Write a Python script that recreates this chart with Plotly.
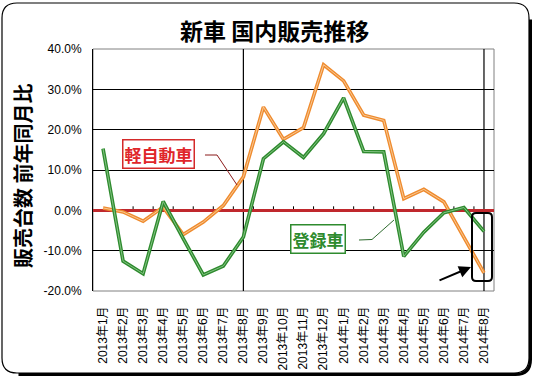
import plotly.graph_objects as go

# ---------------- data ----------------
months = ["2013年1月", "2013年2月", "2013年3月", "2013年4月", "2013年5月", "2013年6月",
          "2013年7月", "2013年8月", "2013年9月", "2013年10月", "2013年11月", "2013年12月",
          "2014年1月", "2014年2月", "2014年3月", "2014年4月", "2014年5月", "2014年6月",
          "2014年7月", "2014年8月"]
kei = [0.6, -0.4, -2.7, 0.8, -6.0, -2.9, 1.2, 8.3, 25.6, 17.6, 20.5, 36.1,
       32.1, 23.6, 22.3, 2.9, 5.2, 2.1, -6.7, -15.5]          # 軽自動車
toroku = [15.3, -12.6, -15.7, 2.2, -7.0, -16.0, -13.8, -6.6, 12.8, 17.0, 13.1, 19.0,
          27.9, 14.6, 14.5, -11.4, -5.4, -0.6, 0.7, -5.2]     # 登録車
ytick_vals = [-20, -10, 0, 10, 20, 30, 40]
ytick_text = [f"{v:.1f}%" for v in ytick_vals]
marked_months = ["2013年8月", "2014年8月"]

title_text = "新車 国内販売推移"
ytitle_text = "販売台数 前年同月比"
kei_label = "軽自動車"
toroku_label = "登録車"

# ---------------- layout geometry (pixels) ----------------
W, H = 534, 378
L, R, T, B = 93, 494, 49, 291


def px(x):
    return (x - L) / (R - L)


def py(y):
    return (B - y) / (B - T)


def rrect(x0, y0, x1, y1, r):
    pts = [
        ("M", [(x0 + r, y0)]), ("L", [(x1 - r, y0)]), ("Q", [(x1, y0), (x1, y0 + r)]),
        ("L", [(x1, y1 - r)]), ("Q", [(x1, y1), (x1 - r, y1)]), ("L", [(x0 + r, y1)]),
        ("Q", [(x0, y1), (x0, y1 - r)]), ("L", [(x0, y0 + r)]), ("Q", [(x0, y0), (x0 + r, y0)]),
    ]
    s = ""
    for cmd, ps in pts:
        s += cmd + " " + " ".join(f"{px(a):.5f},{py(b):.5f}" for a, b in ps) + " "
    return s + "Z"


def shadow_path(x0, y0, x1, y1, r):
    pts = [
        ("M", [(x1, y0 + r)]), ("L", [(x1, y1 - r)]), ("Q", [(x1, y1), (x1 - r, y1)]),
        ("L", [(x0 + r, y1)]),
    ]
    s = ""
    for cmd, ps in pts:
        s += cmd + " " + " ".join(f"{px(a):.5f},{py(b):.5f}" for a, b in ps) + " "
    return s


def polyline(points):
    return "M " + " L ".join(f"{px(a):.5f},{py(b):.5f}" for a, b in points)


fig = go.Figure()

ORANGE = "#EF8B2E"
ORANGE_IN = "#F8C894"
GREEN = "#2E8B2E"
GREEN_IN = "#84C384"

fig.add_trace(go.Scatter(x=months, y=kei, mode="lines",
                         line=dict(color=ORANGE, width=3.6), hoverinfo="skip", showlegend=False))
fig.add_trace(go.Scatter(x=months, y=kei, mode="lines",
                         line=dict(color=ORANGE_IN, width=1), hoverinfo="skip", showlegend=False))
fig.add_trace(go.Scatter(x=months, y=toroku, mode="lines",
                         line=dict(color=GREEN, width=3.6), hoverinfo="skip", showlegend=False))
fig.add_trace(go.Scatter(x=months, y=toroku, mode="lines",
                         line=dict(color=GREEN_IN, width=1), hoverinfo="skip", showlegend=False))

shapes = []
# outer frame with shadow (stroke only, so gridlines stay visible)
shapes.append(dict(type="path", xref="paper", yref="paper", path=shadow_path(3.5, 4.5, 530.5, 374.5, 15),
                   line=dict(color="black", width=3), layer="below"))
shapes.append(dict(type="path", xref="paper", yref="paper", path=rrect(2, 3, 529, 373, 15),
                   line=dict(color="black", width=1.2), layer="below"))
# plot area border
shapes.append(dict(type="rect", xref="paper", yref="paper", x0=0, x1=1, y0=0, y1=1,
                   line=dict(color="#808080", width=1), layer="below"))
# vertical black lines at Aug 2013 / Aug 2014
for m in marked_months:
    shapes.append(dict(type="line", xref="x", yref="paper", x0=m, x1=m, y0=0, y1=1,
                       line=dict(color="black", width=1.2), layer="below"))
# small ticks on zero line at category boundaries
for k in range(1, len(months)):
    shapes.append(dict(type="line", xref="x", yref="y", x0=k - 0.5, x1=k - 0.5, y0=0, y1=1.0,
                       line=dict(color="black", width=1), layer="below"))
# leader lines
shapes.append(dict(type="path", xref="paper", yref="paper",
                   path=polyline([(205, 155), (217, 155), (237, 185)]),
                   line=dict(color="#8B1A1A", width=1)))
shapes.append(dict(type="path", xref="paper", yref="paper",
                   path=polyline([(359, 240), (372, 239.5), (394, 220)]),
                   line=dict(color="#2E6B2E", width=1)))
# highlight box around the latest month
shapes.append(dict(type="path", xref="paper", yref="paper", path=rrect(472, 213, 492, 281, 4),
                   line=dict(color="black", width=2)))

annotations = []
annotations.append(dict(text=f"<b>{title_text}</b>", xref="paper", yref="paper",
                        x=px(274), y=py(30), xanchor="center", yanchor="middle", showarrow=False,
                        font=dict(family="Noto Sans CJK JP", size=23, color="black")))
annotations.append(dict(text=f"<b>{ytitle_text}</b>", xref="paper", yref="paper",
                        x=px(22), y=py(176), xanchor="center", yanchor="middle", showarrow=False,
                        textangle=-90,
                        font=dict(family="Noto Sans CJK JP", size=20, color="black")))
annotations.append(dict(text=f"<b>{kei_label}</b>", xref="paper", yref="paper",
                        x=px(158.5), y=py(153.5), xanchor="center", yanchor="middle",
                        showarrow=False, bgcolor="white", bordercolor="#D42A2A", borderwidth=1.5,
                        borderpad=1,
                        font=dict(family="Noto Sans CJK JP", size=17, color="#E0262A")))
annotations.append(dict(text=f"<b>{toroku_label}</b>", xref="paper", yref="paper",
                        x=px(318), y=py(238.5), xanchor="center", yanchor="middle",
                        showarrow=False, bgcolor="white", bordercolor="#2E8B2E", borderwidth=1.5,
                        borderpad=1,
                        font=dict(family="Noto Sans CJK JP", size=17, color="#2E8B2E")))
annotations.append(dict(text="", xref="paper", yref="paper", x=px(471), y=py(267),
                        ax=-33, ay=14, showarrow=True, arrowhead=2, arrowsize=1.2,
                        arrowwidth=2, arrowcolor="black"))

fig.update_layout(
    width=W, height=H,
    margin=dict(l=L, r=W - R, t=T, b=H - B, autoexpand=False),
    paper_bgcolor="white", plot_bgcolor="white",
    shapes=shapes, annotations=annotations,
    showlegend=False,
    xaxis=dict(type="category", categoryorder="array", categoryarray=months,
               range=[-0.5, len(months) - 0.5], tickangle=-90, showgrid=False,
               showline=False, ticks="", ticklabelstandoff=12, automargin=False,
               tickfont=dict(family="Liberation Sans, Noto Sans CJK JP", size=12, color="black"),
               fixedrange=True),
    yaxis=dict(range=[-20, 40], tickvals=ytick_vals, ticktext=ytick_text,
               showgrid=True, gridcolor="black", gridwidth=1, automargin=False,
               zeroline=True, zerolinecolor="#C0282D", zerolinewidth=3,
               showline=True, linecolor="black", linewidth=1, ticks="",
               ticklabelstandoff=8,
               tickfont=dict(family="Liberation Sans, Arial", size=12, color="black"),
               fixedrange=True),
)

fig.write_html("out.html", config={"displayModeBar": False},
               post_script="document.body.style.margin='0';document.body.style.overflow='hidden';")
